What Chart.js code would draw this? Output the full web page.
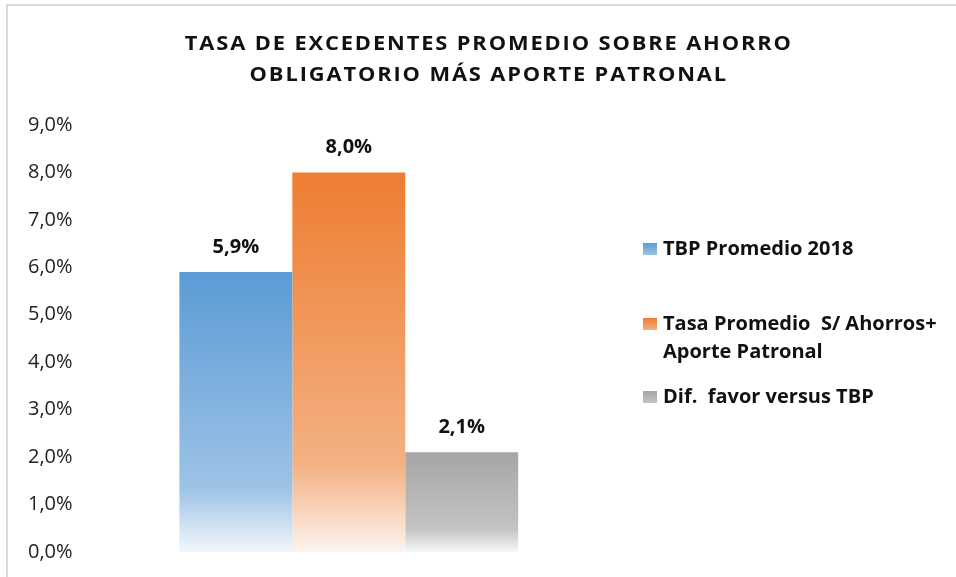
<!DOCTYPE html>
<html>
<head>
<meta charset="utf-8">
<script src="https://cdn.jsdelivr.net/npm/chart.js@4.4.1/dist/chart.umd.min.js"></script>
<style>
  html, body { margin: 0; padding: 0; background: #fff; }
  #wrap { position: relative; width: 956px; height: 577px; }
</style>
</head>
<body>
<div id="wrap"><canvas id="tasaChart" width="956" height="577"></canvas></div>
<script>
// Datos
var categorias = [''];
var serieNombres = ['TBP Promedio 2018', 'Tasa Promedio  S/ Ahorros+ Aporte Patronal', 'Dif.  favor versus TBP'];
var serieLegendLines = [['TBP Promedio 2018'], ['Tasa Promedio  S/ Ahorros+', 'Aporte Patronal'], ['Dif.  favor versus TBP']];
var tbp2018 = [5.9];
var tasaAhorroPatronal = [8.0];
var difFavor = [2.1];
var yTickLabels = ['0,0%', '1,0%', '2,0%', '3,0%', '4,0%', '5,0%', '6,0%', '7,0%', '8,0%', '9,0%'];
var titulo = ['TASA DE EXCEDENTES PROMEDIO SOBRE AHORRO', 'OBLIGATORIO MÁS APORTE PATRONAL'];

// colores: arriba, 77%, abajo
var paletas = [
    ['#5B9BD5', '#9DC3E6', '#F2F6FB'],
    ['#ED7D31', '#F4B183', '#FBF4EF'],
    ['#A6A6A6', '#C3C3C3', '#F7F7F7']
];

Chart.defaults.font.family = "'Open Sans', sans-serif";
Chart.defaults.color = '#222';

function barGradient(i) {
    return function (context) {
        var chart = context.chart;
        var y = chart.scales && chart.scales.y;
        if (!chart.chartArea || !y || context.raw === undefined) return paletas[i][0];
        var top = y.getPixelForValue(context.raw);
        var bottom = y.getPixelForValue(0);
        var g = chart.ctx.createLinearGradient(0, top, 0, bottom);
        g.addColorStop(0, paletas[i][0]);
        g.addColorStop(0.77, paletas[i][1]);
        g.addColorStop(1, paletas[i][2]);
        return g;
    };
}

function fmt(v) {
    return v.toFixed(1).replace('.', ',') + '%';
}

// marco, titulo, etiquetas y leyenda
var extras = {
    id: 'extras',
    beforeDraw: function (chart) {
        var ctx = chart.ctx;
        ctx.save();
        ctx.strokeStyle = '#D9D9D9';
        ctx.lineWidth = 2;
        ctx.beginPath();
        ctx.moveTo(7, chart.height);
        ctx.lineTo(7, 5);
        ctx.lineTo(chart.width, 5);
        ctx.stroke();
        ctx.restore();

        // titulo algo ensanchado, como en el original
        var sx = 1.15;
        ctx.save();
        ctx.fillStyle = '#111';
        ctx.font = "bold 19px 'Open Sans', sans-serif";
        ctx.textAlign = 'center';
        ctx.textBaseline = 'middle';
        var w0 = ctx.measureText(titulo[0]).width;
        var ls = (606 / sx - w0) / (titulo[0].length - 1);
        ctx.letterSpacing = ls.toFixed(2) + 'px';
        ctx.scale(sx, 1);
        titulo.forEach(function (t, k) {
            ctx.fillText(t, (488 + ls / 2) / sx, 45 + k * 31);
        });
        ctx.restore();
    },
    afterDatasetsDraw: function (chart) {
        var ctx = chart.ctx;
        ctx.save();
        ctx.fillStyle = '#111';
        ctx.font = "bold 20px 'Open Sans', sans-serif";
        ctx.textAlign = 'center';
        ctx.textBaseline = 'middle';
        chart.data.datasets.forEach(function (ds, i) {
            var meta = chart.getDatasetMeta(i);
            meta.data.forEach(function (bar, j) {
                ctx.fillText(fmt(ds.data[j]), bar.x, bar.y - 25);
            });
        });
        ctx.restore();
    },
    afterDraw: function (chart) {
        var ctx = chart.ctx;
        var x0 = 643;
        var rows = [249, 324, 397];
        ctx.save();
        ctx.font = "bold 20px 'Open Sans', sans-serif";
        ctx.textBaseline = 'middle';
        serieLegendLines.forEach(function (lines, i) {
            var cy = rows[i];
            var g = ctx.createLinearGradient(0, cy - 6, 0, cy + 6);
            g.addColorStop(0, paletas[i][0]);
            g.addColorStop(1, paletas[i][1]);
            ctx.fillStyle = g;
            ctx.fillRect(x0, cy - 6, 14, 12);
            ctx.fillStyle = '#111';
            lines.forEach(function (l, k) {
                ctx.fillText(l, x0 + 20, cy + k * 28);
            });
        });
        ctx.restore();
    }
};

var ctxEl = document.getElementById('tasaChart');
new Chart(ctxEl.getContext('2d'), {
    type: 'bar',
    data: {
        labels: categorias,
        datasets: [
            { label: serieNombres[0], data: tbp2018, backgroundColor: barGradient(0), borderWidth: 0 },
            { label: serieNombres[1], data: tasaAhorroPatronal, backgroundColor: barGradient(1), borderWidth: 0 },
            { label: serieNombres[2], data: difFavor, backgroundColor: barGradient(2), borderWidth: 0 }
        ]
    },
    options: {
        responsive: false, animation: false,
        layout: { padding: { left: 20, right: 347, top: 125, bottom: 25 } },
        datasets: { bar: { categoryPercentage: 0.651, barPercentage: 1.0 } },
        plugins: { legend: { display: false }, title: { display: false }, tooltip: { enabled: false } },
        scales: {
            x: { display: false, grid: { display: false } },
            y: {
                min: 0, max: 9,
                grid: { display: false }, border: { display: false },
                ticks: {
                    stepSize: 1, padding: 8, color: '#222',
                    font: { size: 20 },
                    callback: function (v, idx) { return yTickLabels[idx]; }
                }
            }
        }
    },
    plugins: [extras]
});
</script>
</body>
</html>
